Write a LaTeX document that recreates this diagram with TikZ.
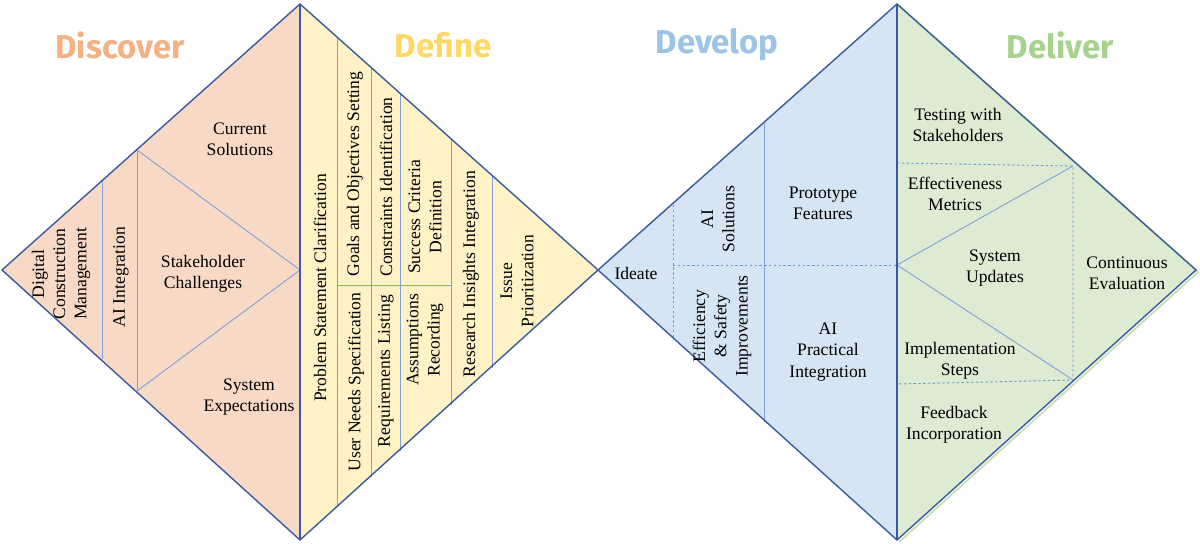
\documentclass[tikz,border=0pt]{standalone}
\usepackage{fontspec}
\setmainfont{Liberation Serif}
\newfontfamily\ttlfont{Fira Sans}
\begin{document}
\begin{tikzpicture}[x=0.5pt,y=-0.5pt,
  outl/.style={draw={rgb,255:red,58;green,90;blue,160}, line width=0.7pt},
  inl/.style={draw={rgb,255:red,130;green,160;blue,215}, line width=0.45pt},
  dsh/.style={draw={rgb,255:red,110;green,145;blue,215}, line width=0.45pt, dash pattern=on 1.2pt off 1.2pt},
  txt/.style={font=\fontsize{8.8}{10.6}\selectfont, align=center, inner sep=0pt},
  vt/.style={txt, rotate=90},
  ttl/.style={font=\ttlfont\bfseries\fontsize{16.5}{18}\selectfont, inner sep=0pt}]
\useasboundingbox (0,0) rectangle (1200,544);
\definecolor{fDis}{HTML}{F8D9C6}
\definecolor{fDef}{HTML}{FFF2C6}
\definecolor{fDev}{HTML}{D6E5F3}
\definecolor{fDel}{HTML}{DEEBD3}
% fills
\fill[fDis] (2,270) -- (300,4) -- (300,540) -- cycle;
\fill[fDef] (300,4) -- (598,270) -- (300,540) -- cycle;
\fill[fDev] (598,270) -- (897,4) -- (897,540) -- cycle;
\fill[fDel] (897,4) -- (1196,270) -- (897,540) -- cycle;
\draw[draw={rgb,255:red,200;green,225;blue,185}, line width=1pt] (899,6) -- (1198,272) -- (899,542);
% Discover internal
\draw[inl] (102,181) -- (102,359);
\draw[inl] (137,150) -- (137,391);
\draw[inl] (137,150) -- (300,270) -- (137,391);
% Define internal
\draw[inl] (337,37) -- (337,507);
\draw[inl] (371,67) -- (371,477);
\draw[inl] (400,93) -- (400,451);
\draw[inl] (451,139) -- (451,405);
\draw[inl] (492,176) -- (492,368);
\draw[inl] (337,285) -- (451,285);
% Develop internal
\draw[dsh] (673,205) -- (673,339);
\draw[inl] (764,123) -- (764,422);
\draw[dsh] (673,265) -- (897,265);
% Deliver internal
\draw[dsh] (897,163) -- (1073,166) -- (1073,380) -- (897,384);
\draw[inl] (1073,166) -- (897,265) -- (1073,380);
% outlines
\draw[outl] (2,270) -- (300,4) -- (598,270) -- (300,540) -- cycle;
\draw[outl] (300,4) -- (300,540);
\draw[outl] (598,270) -- (897,4) -- (1196,270) -- (897,540) -- cycle;
\draw[outl] (897,4) -- (897,540);
% titles
\node[ttl, text={rgb,255:red,244;green,177;blue,131}] (tDis) at (120,45) {Discover};
\node[ttl, text={rgb,255:red,255;green,217;blue,102}] (tDef) at (443,45) {Define};
\node[ttl, text={rgb,255:red,157;green,195;blue,230}] (tDev) at (717,45) {Develop};
\node[ttl, text={rgb,255:red,169;green,209;blue,142}] (tDel) at (1060,45) {Deliver};
% Discover texts
\node[txt] (cs) at (240,139) {Current\\Solutions};
\node[txt] (sc) at (203,274) {Stakeholder\\Challenges};
\node[txt] (se) at (249,397) {System\\Expectations};
\node[vt] (dcm) at (61,274) {Digital\\Construction\\Management};
\node[vt] (aii) at (121,277) {AI Integration};
% Define texts
\node[vt] (psc) at (320,288) {Problem Statement Clarification};
\node[vt] (gos) at (355,174) {Goals and Objectives Setting};
\node[vt] (uns) at (356,382) {User Needs Specification};
\node[vt] (ci) at (386,187) {Constraints Identification};
\node[vt] (rl) at (386,371) {Requirements Listing};
\node[vt] (scd) at (425,217) {Success Criteria\\Definition};
\node[vt] (ar) at (425,340) {Assumptions\\Recording};
\node[vt] (rii) at (471,274) {Research Insights Integration};
\node[vt] (ip) at (517,281) {Issue\\Prioritization};
% Develop texts
\node[txt] (id) at (636,273) {Ideate};
\node[vt] (ais) at (718,219) {AI\\Solutions};
\node[vt] (esi) at (722,326) {Efficiency\\\& Safety\\Improvements};
\node[txt] (pf) at (823,203) {Prototype\\Features};
\node[txt] (api) at (828,352) {AI\\Practical\\Integration};
% Deliver texts
\node[txt] (tws) at (958,125) {Testing with\\Stakeholders};
\node[txt] (em) at (955,194) {Effectiveness\\Metrics};
\node[txt] (su) at (995,268) {System\\Updates};
\node[txt] (ce) at (1127,273) {Continuous\\Evaluation};
\node[txt] (is) at (960,361) {Implementation\\Steps};
\node[txt] (fi) at (954,425) {Feedback\\Incorporation};
\end{tikzpicture}
\end{document}
